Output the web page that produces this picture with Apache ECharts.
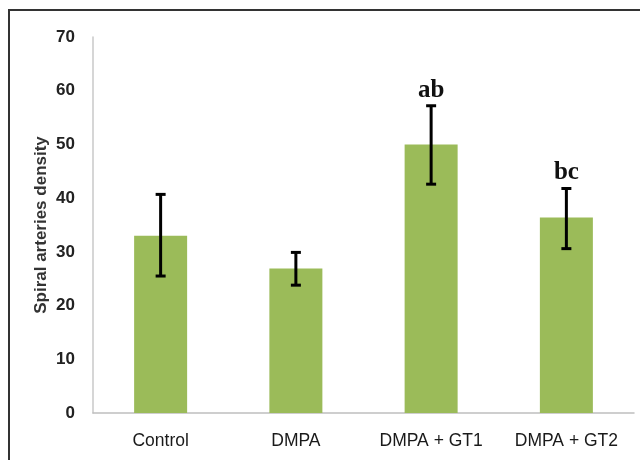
<!DOCTYPE html>
<html>
<head>
<meta charset="utf-8">
<script src="https://cdn.jsdelivr.net/npm/echarts@6/dist/echarts.min.js"></script>
<style>
  html, body { margin: 0; padding: 0; background: #fff; }
  #chart { width: 640px; height: 460px; }
</style>
</head>
<body>
<div id="chart"></div>
<script>
// data
var groups = ["Control", "DMPA", "DMPA + GT1", "DMPA + GT2"];
var density = [33.0, 26.9, 50.0, 36.4];
var errLow = [25.5, 23.8, 42.6, 30.6];
var errHigh = [40.7, 29.9, 57.2, 41.8];
var letters = ["", "", "ab", "bc"];
var yTicks = [0, 10, 20, 30, 40, 50, 60, 70];

var myChart = echarts.init(document.getElementById("chart"));

var errData = groups.map(function (g, i) {
  return [i, errLow[i], errHigh[i], letters[i]];
});

myChart.setOption({
  animation: false,
  backgroundColor: "#fff",
  graphic: [
    {
      type: "rect",
      shape: { x: 9, y: 10, width: 700, height: 520 },
      style: { fill: null, stroke: "#333", lineWidth: 2 },
      silent: true
    }
  ],
  grid: { left: 93, right: 6, top: 37, bottom: 47 },
  xAxis: {
    type: "category",
    data: groups,
    axisLine: { lineStyle: { color: "#bfbfbf", width: 1.5 } },
    axisTick: { show: false },
    axisLabel: {
      interval: 0,
      hideOverlap: false,
      margin: 19,
      fontFamily: "Liberation Sans",
      fontSize: 17.5,
      color: "#1a1a1a"
    }
  },
  yAxis: {
    type: "value",
    min: yTicks[0],
    max: yTicks[yTicks.length - 1],
    interval: 10,
    name: "Spiral arteries density",
    nameLocation: "middle",
    nameGap: 43,
    nameMoveOverlap: false,
    nameTextStyle: {
      fontFamily: "Liberation Sans",
      fontSize: 17,
      fontWeight: "bold",
      color: "#333"
    },
    axisLine: { show: true, lineStyle: { color: "#c8c8c8", width: 1.5 } },
    axisTick: { show: false },
    splitLine: { show: false },
    axisLabel: {
      margin: 18,
      fontFamily: "Liberation Sans",
      fontSize: 17,
      fontWeight: "bold",
      color: "#222"
    }
  },
  series: [
    {
      type: "bar",
      data: density,
      barWidth: 53,
      itemStyle: { color: "#9bbb59" }
    },
    {
      type: "custom",
      data: errData,
      z: 10,
      renderItem: function (params, api) {
        var x = api.value(0);
        var lo = api.coord([x, api.value(1)]);
        var hi = api.coord([x, api.value(2)]);
        var cap = 5;
        var st = { stroke: "#000", lineWidth: 3 };
        var kids = [
          { type: "line", shape: { x1: hi[0], y1: hi[1], x2: lo[0], y2: lo[1] }, style: st },
          { type: "line", shape: { x1: hi[0] - cap, y1: hi[1], x2: hi[0] + cap, y2: hi[1] }, style: st },
          { type: "line", shape: { x1: lo[0] - cap, y1: lo[1], x2: lo[0] + cap, y2: lo[1] }, style: st }
        ];
        var txt = api.value(3);
        if (txt) {
          kids.push({
            type: "text",
            style: {
              text: txt,
              x: hi[0],
              y: hi[1] - 3,
              align: "center",
              verticalAlign: "bottom",
              font: "bold 25px 'Liberation Serif'",
              fill: "#111"
            }
          });
        }
        return { type: "group", children: kids };
      }
    }
  ]
});
</script>
</body>
</html>
